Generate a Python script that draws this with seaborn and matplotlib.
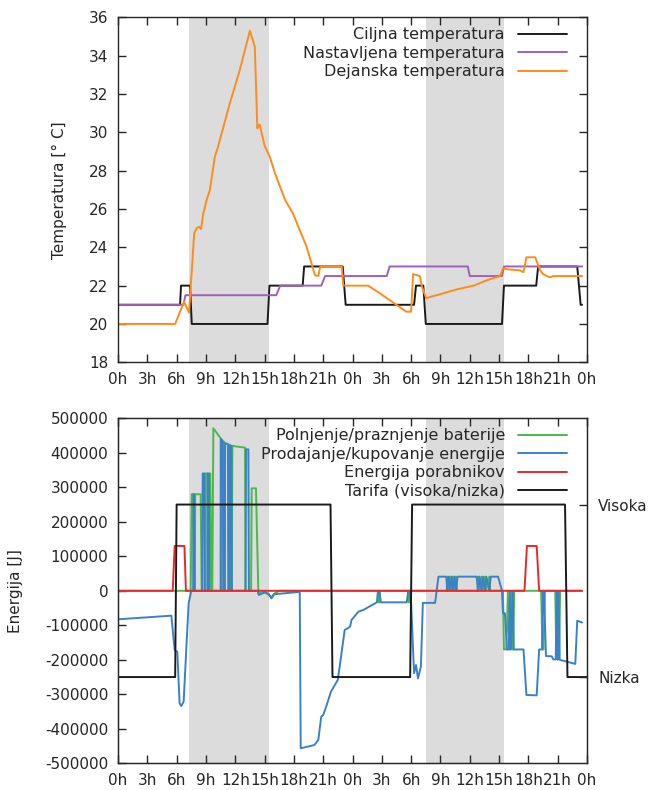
import numpy as np
import pandas as pd
import seaborn as sns
import matplotlib.pyplot as plt

# --- data (hours since start, 2 days) ---
shade_spans = [(7.3, 15.5), (31.5, 39.5)]
hour_ticks = list(range(0, 49, 3))
hour_labels = [f"{h % 24}h" for h in hour_ticks]

target_t = [0, 6.35, 6.45, 7.37, 7.55, 15.3, 15.5, 18.9, 19.05, 23.0, 23.3,
            30.3, 30.5, 31.25, 31.5, 39.3, 39.5, 42.8, 43.0, 47.0, 47.35, 47.5]
target_v = [21, 21, 22, 22, 20, 20, 22, 22, 23, 23, 21,
            21, 22, 22, 20, 20, 22, 22, 23, 23, 21, 21]

setpoint_t = [0, 6.7, 6.9, 16.2, 16.6, 20.8, 21.2, 27.5, 27.8, 35.8, 36.0, 39.3, 39.5, 47.5]
setpoint_v = [21, 21, 21.5, 21.5, 22, 22, 22.5, 22.5, 23, 23, 22.5, 22.5, 23, 23]

actual_t = [0, 5.85, 6.76, 7.27, 7.8, 8.05, 8.3, 8.5, 8.73, 9.07, 9.4, 9.9, 10.24, 10.58,
            11.44, 12.46, 13.5, 14.0, 14.26, 14.4, 14.5, 15.0, 15.55, 16.07, 17.1, 17.9,
            18.6, 19.3, 20.15, 20.5, 20.7, 22.9, 23.05, 25.6, 26.8, 28.5, 29.5, 30.0,
            30.2, 30.9, 31.1, 31.55, 31.9, 32.95, 34.65, 36.4, 37.7, 39.1, 39.4, 39.9,
            41.1, 41.5, 41.8, 42.7, 43.2, 43.5, 44.2, 44.55, 47.5]
actual_v = [20, 20, 21.16, 20.6, 24.73, 25.0, 25.07, 24.95, 25.77, 26.47, 26.99, 28.7, 29.25, 29.9,
            31.5, 33.25, 35.3, 34.46, 30.2, 30.35, 30.4, 29.3, 28.7, 27.86, 26.47, 25.77,
            24.9, 24.03, 22.55, 22.5, 23.0, 23.0, 22.0, 22.0, 21.6, 21.0, 20.64, 20.64,
            22.6, 22.5, 21.95, 21.34, 21.4, 21.55, 21.8, 22.0, 22.27, 22.5, 22.9, 22.85,
            22.8, 22.7, 23.48, 23.48, 22.8, 22.6, 22.43, 22.5, 22.5]

battery_t = [0, 7.44, 7.54, 7.7, 7.74, 7.85, 7.9, 8.46, 8.56, 8.88, 8.92, 9.14, 9.17, 9.33,
             9.37, 9.45, 9.55, 9.65, 9.76, 10.5, 10.54, 10.78, 10.82, 10.92, 10.95, 11.3,
             11.34, 11.42, 11.45, 11.65, 11.7, 13.0, 13.05, 13.62, 13.68, 14.12, 14.36,
             14.4, 15.0, 15.7, 16.0, 16.5, 26.6, 26.65, 26.75, 26.8, 29.7, 29.75, 29.85,
             29.9, 33.65, 33.7, 33.8, 34.0, 34.1, 34.3, 34.4, 34.6, 34.7, 36.8, 36.85,
             36.95, 37.2, 37.3, 37.55, 37.65, 38.0, 38.1, 39.4, 39.5, 39.75, 39.9, 40.05,
             40.15, 40.25, 40.35, 40.45, 40.55, 43.3, 43.45, 43.55, 43.7, 44.75, 44.85,
             44.95, 45.05, 45.1, 45.15, 45.25, 47.5]
battery_v = [0, 0, 280000, 280000, 0, 0, 280000, 280000, 0, 0, 340000, 340000, 0, 0,
             340000, 340000, 0, 0, 471000, 442000, 0, 0, 432000, 430000, 0, 0,
             424000, 423000, 0, 0, 420000, 415000, 0, 0, 297000, 297000, 0,
             -8000, -3000, -18000, -8000, 0, 0, -33400, -33400, 0, 0, -33400, -33400,
             0, 0, 41000, 0, 41000, 0, 41000, 0, 41000, 0, 0, 41000,
             0, 41000, 0, 41000, 0, 41000, 0, 0, -170000, -170000, 0, -170000,
             -170000, 0, -170000, -170000, 0, 0, -170000, -170000, 0, 0, -180000,
             -180000, 0, -190000, -190000, 0, 0]

grid_t = [0, 5.46, 5.8, 6.07, 6.3, 6.48, 6.72, 7.0, 7.23, 7.5, 7.7, 7.74, 7.8, 7.85,
          8.62, 8.67, 8.84, 8.88, 9.15, 9.18, 9.3, 9.34, 10.5, 10.54, 10.72, 10.78,
          10.92, 10.96, 11.25, 11.3, 11.42, 11.46, 11.6, 11.65, 13.05, 13.1, 13.34, 13.4,
          14.3, 14.4, 15.0, 15.4, 15.7, 16.0, 18.6, 18.7, 20.1, 20.5, 20.8, 21.0, 21.3,
          21.8, 22.5, 23.2, 23.5, 23.75, 23.9, 24.6, 25.1, 26.5, 26.6, 26.75, 26.9,
          29.55, 29.7, 29.85, 30.0, 30.3, 30.5, 30.7, 31.0, 31.2, 32.45, 32.8, 33.6,
          33.7, 33.85, 34.0, 34.15, 34.3, 34.45, 34.6, 34.75, 36.7, 36.85, 37.0, 37.2,
          37.35, 37.55, 37.7, 38.0, 38.15, 38.9, 39.3, 39.4, 39.6, 39.8, 40.0, 40.1,
          40.2, 40.4, 40.5, 41.5, 41.8, 42.85, 43.1, 43.4, 43.5, 43.6, 43.8, 44.4,
          44.55, 44.8, 44.9, 45.0, 45.1, 45.2, 45.9, 46.8, 47.0, 47.5]
grid_v = [-82600, -72100, -171600, -176500, -326000, -334000, -321000, -162000, -36000, 0,
          0, 280000, 280000, 0, 0, 340000, 340000, 0, 0, 340000, 340000, 0, 0, 440000,
          435000, 0, 0, 428000, 425000, 0, 0, 422000, 420000, 0, 0, 410000, 410000, 0,
          0, -12000, -5000, -8000, -22000, -10000, -3000, -456500, -447000, -432000,
          -365000, -360000, -336000, -292000, -258000, -113600, -108700, -104000, -84600,
          -60500, -55700, -33400, 0, 0, -33400, -33400, 0, 0, -35000, -239000, -215000,
          -254000, -220000, -35000, -35000, 41000, 41000, 0, 41000, 0, 41000, 0, 41000,
          0, 41000, 41000, 0, 41000, 0, 41000, 0, 41000, 0, 41000, 41000, 0, -65000,
          -65000, -170000, -170000, 0, -170000, 0, -170000, -170000, -302000, -303000,
          -170000, -170000, 0, 0, -189000, -190000, -199000, -199000, 0, -200000, 0,
          -200000, -205000, -212000, -86600, -92000]

load_t = [0, 5.6, 5.8, 6.8, 6.95, 41.6, 41.85, 42.85, 43.1, 47.5]
load_v = [0, 0, 130000, 130000, 0, 0, 130000, 130000, 0, 0]

tariff_t = [0, 5.85, 6.0, 21.75, 21.95, 29.9, 30.1, 45.75, 46.0, 48]
tariff_v = [-250000, -250000, 250000, 250000, -250000, -250000, 250000, 250000, -250000, -250000]
tariff_ticks = [250000, -250000]
tariff_labels = ["Visoka", "Nizka"]

sns.set_style("ticks")
plt.rcParams['font.family'] = ['DejaVu Sans']
plt.rcParams['font.size'] = 11

fig = plt.figure(figsize=(6.6, 7.9), dpi=100)
ax_t = fig.add_axes([0.1788, 0.5414, 0.7106, 0.4367])
ax_e = fig.add_axes([0.1788, 0.0338, 0.7106, 0.4367])

lw = 1.4
line_kw = dict(estimator=None, sort=False, lw=lw)

# --- top: temperatures ---
for a, b in shade_spans:
    ax_t.axvspan(a, b, color='#dcdcdc', lw=0, zorder=0)
sns.lineplot(x=target_t, y=target_v, ax=ax_t, color='#1a1a1a', label='Ciljna temperatura', **line_kw)
sns.lineplot(x=setpoint_t, y=setpoint_v, ax=ax_t, color='#a060b8', label='Nastavljena temperatura', **line_kw)
sns.lineplot(x=actual_t, y=actual_v, ax=ax_t, color='#ff8c1a', label='Dejanska temperatura', **line_kw)
ax_t.set_ylim(18, 36)
ax_t.set_yticks(range(18, 37, 2))
ax_t.set_ylabel('Temperatura [° C]', labelpad=16)

# --- bottom: energy ---
for a, b in shade_spans:
    ax_e.axvspan(a, b, color='#dcdcdc', lw=0, zorder=0)
sns.lineplot(x=battery_t, y=battery_v, ax=ax_e, color='#4cb84c', label='Polnjenje/praznjenje baterije', **line_kw)
sns.lineplot(x=grid_t, y=grid_v, ax=ax_e, color='#3a82c8', label='Prodajanje/kupovanje energije', **line_kw)
sns.lineplot(x=load_t, y=load_v, ax=ax_e, color='#e8282a', label='Energija porabnikov', **line_kw)
sns.lineplot(x=tariff_t, y=tariff_v, ax=ax_e, color='#1a1a1a', label='Tarifa (visoka/nizka)', **line_kw)
ax_e.set_ylim(-500000, 500000)
ax_e.set_yticks(range(-500000, 500001, 100000))
ax_e.set_yticklabels([str(v) for v in range(-500000, 500001, 100000)])
ax_e.set_ylabel('Energija [J]', labelpad=16)

ax_r = ax_e.twinx()
ax_r.set_ylim(-500000, 500000)
ax_r.set_yticks(tariff_ticks)
ax_r.set_yticklabels(tariff_labels)
ax_r.tick_params(direction='in', length=6, width=1, pad=8)

for ax in (ax_t, ax_e):
    ax.set_xlim(0, 48)
    ax.set_xticks(hour_ticks)
    ax.set_xticklabels(hour_labels)
    ax.set_xlabel('')
    ax.tick_params(direction='in', length=6, width=1, top=True)
    ax.tick_params(axis='x', pad=7)
    ax.tick_params(axis='y', pad=7)
    for s in ax.spines.values():
        s.set_linewidth(1)
        s.set_visible(True)
    ax.legend(loc='upper right', bbox_to_anchor=(0.985, 1.008), frameon=False,
              markerfirst=False, handlelength=3.1, handletextpad=0.8,
              labelspacing=0.22, borderaxespad=0.4, fontsize=11.5)
ax_t.tick_params(right=True)
ax_e.tick_params(right=False)

fig.savefig('out.png', dpi=100)
